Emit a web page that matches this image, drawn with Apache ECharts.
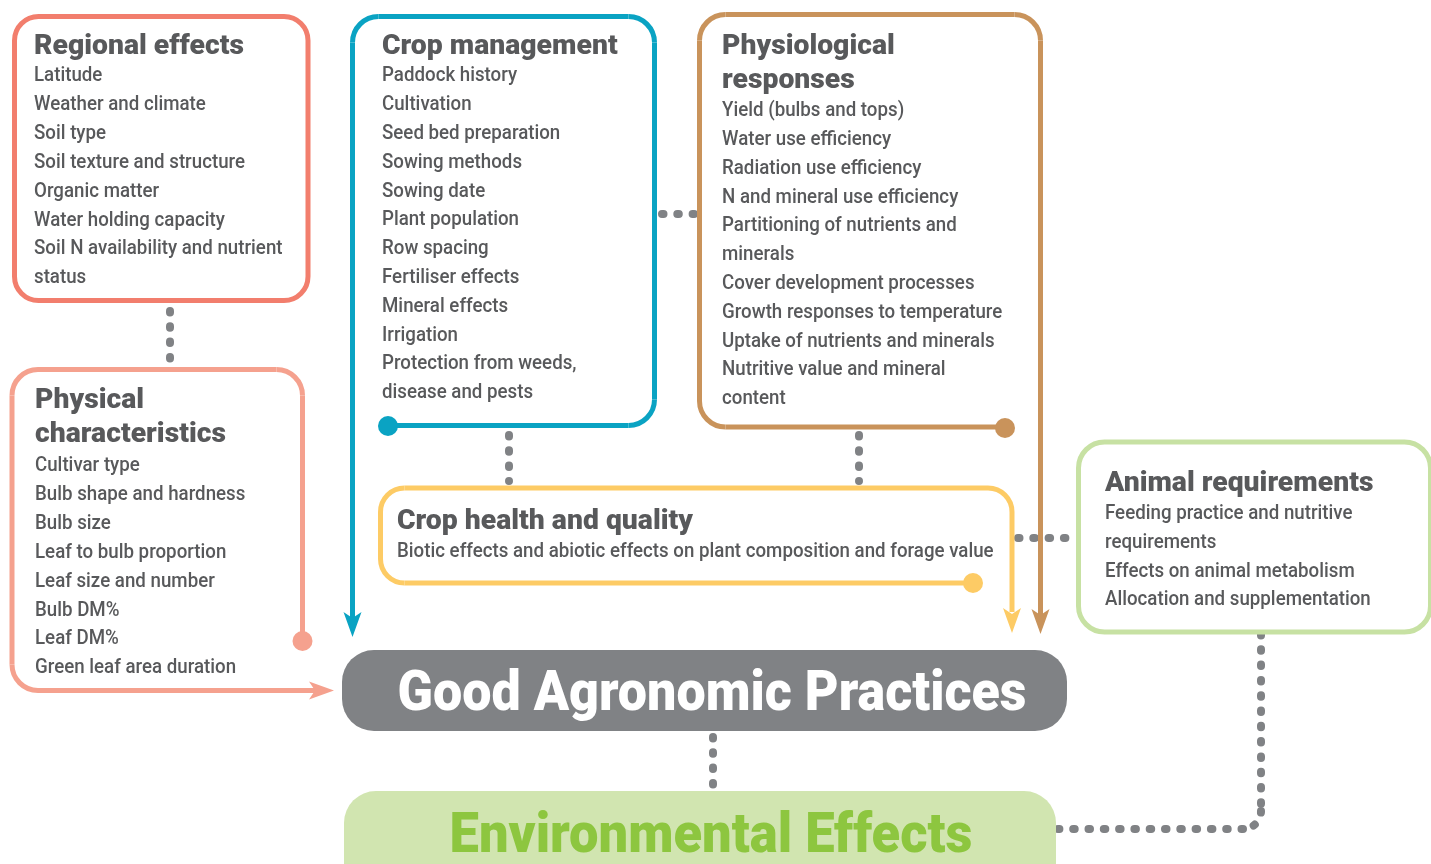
<!DOCTYPE html>
<html>
<head>
<meta charset="utf-8">
<script src="https://cdn.jsdelivr.net/npm/echarts@6/dist/echarts.min.js"></script>
<style>
html,body{margin:0;padding:0;background:#fff;}
#chart{width:1431px;height:864px;}
</style>
</head>
<body>
<div id="chart"></div>
<script>
// ---- Diagram content ----
const regionalTitle = ['Regional effects'];
const regionalItems = ['Latitude','Weather and climate','Soil type','Soil texture and structure','Organic matter','Water holding capacity','Soil N availability and nutrient','status'];
const cropMgmtTitle = ['Crop management'];
const cropMgmtItems = ['Paddock history','Cultivation','Seed bed preparation','Sowing methods','Sowing date','Plant population','Row spacing','Fertiliser effects','Mineral effects','Irrigation','Protection from weeds,','disease and pests'];
const physioTitle = ['Physiological','responses'];
const physioItems = ['Yield (bulbs and tops)','Water use efficiency','Radiation use efficiency','N and mineral use efficiency','Partitioning of nutrients and','minerals','Cover development processes','Growth responses to temperature','Uptake of nutrients and minerals','Nutritive value and mineral','content'];
const physicalTitle = ['Physical','characteristics'];
const physicalItems = ['Cultivar type','Bulb shape and hardness','Bulb size','Leaf to bulb proportion','Leaf size and number','Bulb DM%','Leaf DM%','Green leaf area duration'];
const healthTitle = ['Crop health and quality'];
const healthItems = ['Biotic effects and abiotic effects on plant composition and forage value'];
const animalTitle = ['Animal requirements'];
const animalItems = ['Feeding practice and nutritive','requirements','Effects on animal metabolism','Allocation and supplementation'];
const centralLabel = ['Good Agronomic Practices'];
const outcomeLabel = ['Environmental Effects'];

// ---- Styling ----
const FONT = 'Roboto, "Liberation Sans", sans-serif';
const TEXT = '#58595B';
const GRAY = '#808285';
const C_REG = '#F27E6D', C_PHYS = '#F5A18E', C_BLUE = '#0AA3C3', C_TAN = '#C9935B',
      C_YEL = '#FDCB65', C_ANI = '#C7E1A3', C_ENVF = '#D1E5B0', C_ENVT = '#8DC63F';
const LW = 5;
const ITEM_SIZE = 21, TITLE_SIZE = 28, BIG_SIZE = 56;

// condensed look: horizontal scale from reference string widths
const mctx = document.createElement('canvas').getContext('2d');
function measure(s, font){ mctx.font = font; return mctx.measureText(s).width; }
const itemFont = '500 ' + ITEM_SIZE + 'px ' + FONT;
const titleFont = '900 ' + TITLE_SIZE + 'px ' + FONT;
const bigFont = '900 ' + BIG_SIZE + 'px ' + FONT;
const itemScale = 211 / measure('Soil texture and structure', itemFont);
const titleScale = 210 / measure('Regional effects', titleFont);
const gapScale = 629 / measure(centralLabel[0], bigFont);
const envScale = 523 / measure(outcomeLabel[0], bigFont);

const els = [];
function roundedSegs(pts, r, style, z){
  const k = 0.5523;
  let cur = pts[0];
  for (let i = 1; i < pts.length - 1; i++) {
    const p0 = pts[i-1], p = pts[i], p1 = pts[i+1];
    const d0 = Math.hypot(p[0]-p0[0], p[1]-p0[1]), d1 = Math.hypot(p1[0]-p[0], p1[1]-p[1]);
    const u0 = [(p[0]-p0[0])/d0, (p[1]-p0[1])/d0], u1 = [(p1[0]-p[0])/d1, (p1[1]-p[1])/d1];
    const a = [p[0]-u0[0]*r, p[1]-u0[1]*r], b = [p[0]+u1[0]*r, p[1]+u1[1]*r];
    const c1 = [a[0]+u0[0]*r*k, a[1]+u0[1]*r*k], c2 = [b[0]-u1[0]*r*k, b[1]-u1[1]*r*k];
    els.push({type:'line', shape:{x1:cur[0], y1:cur[1], x2:a[0], y2:a[1]}, style:Object.assign({}, style), z:z});
    els.push({type:'bezierCurve', shape:{x1:a[0], y1:a[1], cpx1:c1[0], cpy1:c1[1], cpx2:c2[0], cpy2:c2[1], x2:b[0], y2:b[1]}, style:Object.assign({}, style, {fill:null}), z:z});
    cur = b;
  }
  const l = pts[pts.length-1];
  els.push({type:'line', shape:{x1:cur[0], y1:cur[1], x2:l[0], y2:l[1]}, style:Object.assign({}, style), z:z});
}
function stroke(pts, color, r){
  roundedSegs(pts, r, {stroke:color, lineWidth:LW, lineCap:'butt', fill:null}, 1);
}
function dot(x, y, color, rr){
  els.push({type:'circle', shape:{cx:x, cy:y, r:rr||10}, style:{fill:color}, z:2});
}
function arrow(x, y, dir, color){
  let pts;
  if (dir === 'down') pts = [[x, y], [x-9, y-25], [x, y-19], [x+9, y-25]];
  else pts = [[x, y], [x-25, y-9], [x-19, y], [x-25, y+9]];
  els.push({type:'polygon', shape:{points:pts}, style:{fill:color}, z:2});
}
function dotted(pts, r){
  roundedSegs(pts, r||16, {stroke:GRAY, lineWidth:8, lineDash:[1.5, 13.8], lineCap:'round', fill:null}, 0);
}
function txt(x, y, s, font, scale, color, align){
  els.push({type:'text', x:x, y:y, scaleX:scale, style:{text:s, fill:color, font:font, textAlign:align||'left', textVerticalAlign:'middle'}, z:3});
}
function block(x, titles, tY0, tStep, items, iY0, iStep){
  titles.forEach((t, i) => txt(x, tY0 + i*tStep, t, titleFont, titleScale, TEXT));
  items.forEach((t, i) => txt(x, iY0 + i*iStep, t, itemFont, itemScale, TEXT));
}

// Dotted connectors
dotted([[170, 311], [170, 362]]);
dotted([[662, 214], [697, 214]]);
dotted([[509, 435], [509, 481]]);
dotted([[859, 435], [859, 481]]);
dotted([[1018, 538], [1072, 538]]);
dotted([[713, 737], [713, 786]]);
dotted([[1261, 634], [1261, 829], [1058, 829]], 18);

// Boxes
els.push({type:'rect', shape:{x:14.5, y:16.5, width:293.5, height:284, r:24}, style:{fill:null, stroke:C_REG, lineWidth:LW}, z:1});
stroke([[388, 425.5], [654.5, 425.5], [654.5, 16.5], [352.5, 16.5], [352.5, 618]], C_BLUE, 26);
dot(388, 426, C_BLUE); arrow(352.5, 637, 'down', C_BLUE);
stroke([[1005, 427], [699.5, 427], [699.5, 14.5], [1040.5, 14.5], [1040.5, 615]], C_TAN, 26);
dot(1005, 428, C_TAN); arrow(1040.5, 634, 'down', C_TAN);
stroke([[302.5, 641], [302.5, 369.5], [12, 369.5], [12, 690.5], [316, 690.5]], C_PHYS, 26);
dot(302.5, 641, C_PHYS); arrow(334, 690.5, 'right', C_PHYS);
stroke([[973, 583], [380.5, 583], [380.5, 488], [1012, 488], [1012, 612]], C_YEL, 24);
dot(973, 583, C_YEL); arrow(1012, 633, 'down', C_YEL);
els.push({type:'rect', shape:{x:1078.5, y:442, width:352, height:190, r:26}, style:{fill:'#fff', stroke:C_ANI, lineWidth:LW}, z:1});

// Central and outcome
els.push({type:'rect', shape:{x:342, y:650, width:725, height:81, r:32}, style:{fill:GRAY}, z:1});
els.push({type:'rect', shape:{x:344, y:791, width:712, height:110, r:32}, style:{fill:C_ENVF}, z:1});
txt(712, 696, centralLabel[0], bigFont, gapScale, '#ffffff', 'center');
txt(711, 838, outcomeLabel[0], bigFont, envScale, C_ENVT, 'center');

// Text blocks
block(34, regionalTitle, 47, 34, regionalItems, 76, 28.85);
block(382, cropMgmtTitle, 47, 34, cropMgmtItems, 76, 28.82);
block(722, physioTitle, 47, 34, physioItems, 111, 28.8);
block(35, physicalTitle, 401, 34, physicalItems, 466, 28.86);
block(397, healthTitle, 522, 34, healthItems, 552, 0);
block(1105, animalTitle, 484, 34, animalItems, 514, 28.67);

const chart = echarts.init(document.getElementById('chart'), null, {renderer:'canvas'});
chart.setOption({animation:false, backgroundColor:'#ffffff', graphic:{elements:els}});
</script>
</body>
</html>
